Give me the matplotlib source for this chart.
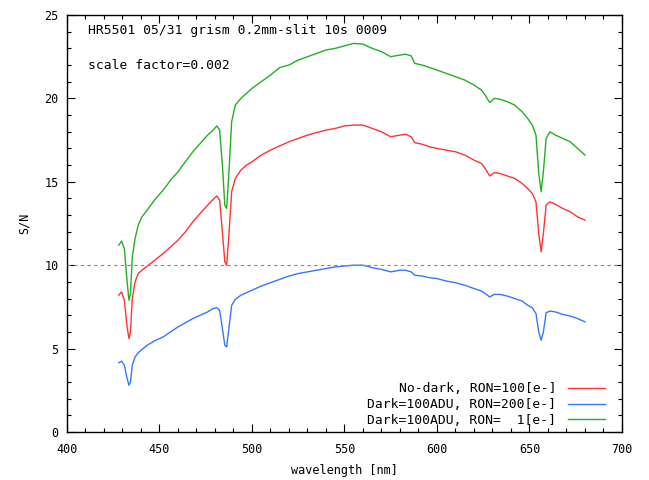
import numpy as np
import matplotlib
matplotlib.use("Agg")
import matplotlib.pyplot as plt
from matplotlib.ticker import MultipleLocator

# wavelength grid [nm]
wl = [428, 429.5, 431, 432.5, 433.5, 434.3, 435.3, 436.8, 438.5, 440.5,
      444, 448, 452, 456, 460, 464, 468, 472, 476, 479,
      481, 482.5, 484, 485.3, 486.3, 487.5, 489, 491, 494, 497,
      500, 505, 510, 515, 520, 525, 530, 535, 540, 545,
      550, 555, 560, 565, 570, 575, 580, 583, 586, 588,
      592, 596, 600, 605, 610, 615, 620, 624, 626, 628.5,
      631, 634, 638, 642, 646, 649, 651.5, 653.5, 655, 656.3,
      657.5, 659, 661, 664, 668, 672, 676, 680]

sn_nodark = [8.2, 8.4, 7.9, 6.3, 5.6, 6.0, 8.0, 9.0, 9.5, 9.7,
             10.0, 10.35, 10.7, 11.1, 11.5, 12.0, 12.6, 13.1, 13.6, 13.95,
             14.15, 13.9, 12.0, 10.2, 10.0, 11.8, 14.4, 15.2, 15.7, 16.0,
             16.2, 16.6, 16.9, 17.15, 17.4, 17.6, 17.8, 17.95, 18.1, 18.2,
             18.35, 18.4, 18.4, 18.2, 18.0, 17.7, 17.8, 17.85, 17.7, 17.35,
             17.25, 17.1, 17.0, 16.9, 16.8, 16.6, 16.3, 16.1, 15.8, 15.35,
             15.55, 15.5, 15.35, 15.2, 14.9, 14.6, 14.3, 13.8, 11.9, 10.8,
             11.9, 13.6, 13.8, 13.65, 13.4, 13.2, 12.9, 12.7]

sn_ron200 = [4.15, 4.25, 4.0, 3.2, 2.8, 3.0, 4.0, 4.5, 4.75, 4.95,
             5.25, 5.5, 5.7, 6.0, 6.3, 6.55, 6.8, 7.0, 7.2, 7.4,
             7.45, 7.3, 6.2, 5.2, 5.1, 6.2, 7.6, 7.95, 8.2, 8.35,
             8.5, 8.75, 8.95, 9.15, 9.35, 9.5, 9.6, 9.7, 9.8, 9.9,
             9.95, 10.0, 10.0, 9.85, 9.75, 9.6, 9.7, 9.7, 9.6, 9.4,
             9.35, 9.25, 9.2, 9.05, 8.95, 8.8, 8.6, 8.45, 8.3, 8.1,
             8.25, 8.25, 8.15, 8.0, 7.85, 7.6, 7.45, 7.1, 6.0, 5.5,
             6.0, 7.15, 7.25, 7.2, 7.05, 6.95, 6.8, 6.6]

sn_ron1 = [11.2, 11.45, 11.0, 9.0, 7.9, 8.3, 10.5, 11.6, 12.4, 12.9,
           13.4, 14.0, 14.5, 15.1, 15.6, 16.2, 16.8, 17.3, 17.8, 18.1,
           18.35, 18.1, 16.0, 13.6, 13.4, 15.5, 18.6, 19.6, 20.0, 20.3,
           20.6, 21.0, 21.4, 21.85, 22.0, 22.3, 22.5, 22.7, 22.9, 23.0,
           23.15, 23.3, 23.25, 23.0, 22.8, 22.5, 22.6, 22.65, 22.55, 22.1,
           22.0, 21.85, 21.7, 21.5, 21.3, 21.1, 20.8, 20.5, 20.2, 19.75,
           20.0, 19.95, 19.8, 19.6, 19.2, 18.8, 18.4, 17.8, 15.5, 14.4,
           15.6, 17.6, 18.0, 17.8, 17.6, 17.4, 17.0, 16.6]

labels = ["No-dark, RON=100[e-]",
          "Dark=100ADU, RON=200[e-]",
          "Dark=100ADU, RON=  1[e-]"]
colors = ["#ff3333", "#3377ff", "#22b022"]

mono = "DejaVu Sans Mono"
plt.rcParams["font.family"] = mono
plt.rcParams["font.size"] = 8.5

fig = plt.figure(figsize=(6.49, 4.80), dpi=100)
ax = fig.add_axes([67 / 649, 48 / 480, 555 / 649, 417 / 480])

for y, lab, c in zip([sn_nodark, sn_ron200, sn_ron1], labels, colors):
    ax.plot(wl, y, color=c, lw=1.0, label=lab)

ax.axhline(10, color="#888888", lw=0.8, ls=(0, (3, 3)), zorder=3)

ax.set_xlim(400, 700)
ax.set_ylim(0, 25)
ax.xaxis.set_major_locator(MultipleLocator(50))
ax.xaxis.set_minor_locator(MultipleLocator(10))
ax.yaxis.set_major_locator(MultipleLocator(5))
ax.yaxis.set_minor_locator(MultipleLocator(1))
ax.tick_params(which="both", direction="in", top=True, right=True)
ax.tick_params(which="major", length=6, width=0.8)
ax.tick_params(which="minor", length=3, width=0.8)
ax.tick_params(axis="x", pad=8)
ax.tick_params(axis="y", pad=6)
for s in ax.spines.values():
    s.set_linewidth(1.0)

ax.set_xlabel("wavelength [nm]", labelpad=6)
ax.set_ylabel("S/N", labelpad=10)

ax.text(0.038, 0.964, "HR5501 05/31 grism 0.2mm-slit 10s 0009",
        transform=ax.transAxes, va="center", ha="left", fontsize=9.4)
ax.text(0.038, 0.88, "scale factor=0.002",
        transform=ax.transAxes, va="center", ha="left", fontsize=9.4)

leg = ax.legend(loc="lower right", bbox_to_anchor=(0.969, 0.012),
                frameon=False, markerfirst=False, handlelength=2.85,
                handletextpad=0.85, labelspacing=0.22, borderaxespad=0,
                borderpad=0, prop={"family": mono, "size": 9.4})

fig.savefig("out.png", dpi=100)
